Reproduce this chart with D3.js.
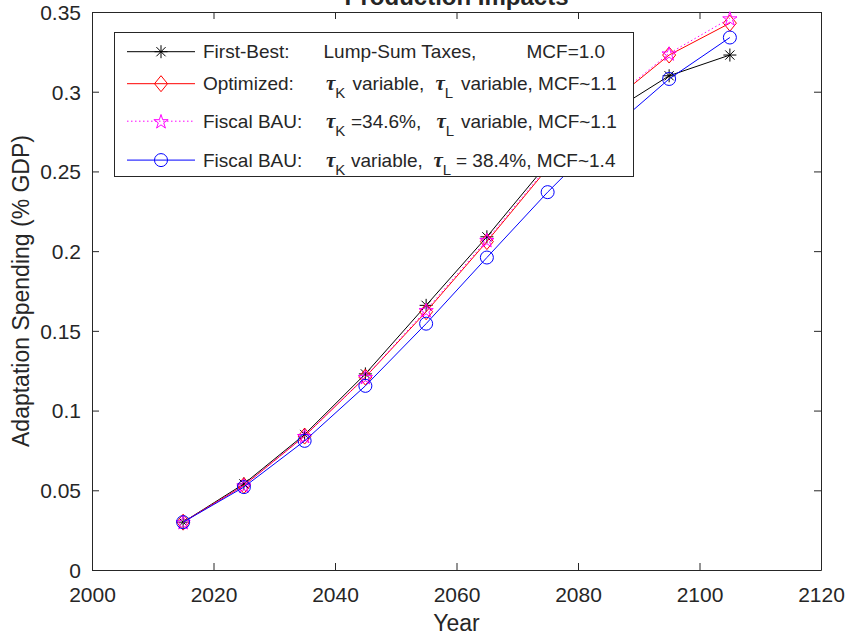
<!DOCTYPE html>
<html><head><meta charset="utf-8">
<script src="https://cdn.jsdelivr.net/npm/d3@7"></script>
<style>body{margin:0;background:#fff}svg{display:block}text{font-family:"Liberation Sans",Arial,sans-serif;fill:#262626}</style>
</head><body>
<svg id="chart" width="848" height="637"></svg>
<script>
const years = [2015,2025,2035,2045,2055,2065,2075,2085,2095,2105];
const firstBest = [0.030,0.054,0.085,0.123,0.166,0.209,0.255,0.286,0.310,0.323];
const optimized = [0.030,0.053,0.084,0.121,0.162,0.206,0.252,0.292,0.323,0.343];
const fiscalK   = [0.030,0.053,0.084,0.121,0.163,0.207,0.253,0.293,0.324,0.346];
const fiscalL   = [0.030,0.052,0.081,0.1155,0.1545,0.196,0.237,0.275,0.308,0.334];
const xTicks = [2000,2020,2040,2060,2080,2100,2120];
const yTicks = [0,0.05,0.1,0.15,0.2,0.25,0.3,0.35];
const yTickLabels = ["0","0.05","0.1","0.15","0.2","0.25","0.3","0.35"];

const svg = d3.select("#chart");
const L=92,R=821,T=12,B=570;
const x = d3.scaleLinear().domain([2000,2120]).range([L,R]);
const y = d3.scaleLinear().domain([0,0.35]).range([B,T]);

const series = [
  {name:"fb", vals:firstBest, color:"#000000", dash:null, marker:"asterisk"},
  {name:"opt", vals:optimized, color:"#ff0000", dash:null, marker:"diamond"},
  {name:"fk", vals:fiscalK, color:"#ff00ff", dash:"1.5,2.5", marker:"star"},
  {name:"fl", vals:fiscalL, color:"#0000ff", dash:null, marker:"circle"}
];

// axes box
const axisColor="#262626";
const gx = svg.append("g").attr("transform",`translate(0,${B})`)
  .call(d3.axisBottom(x).tickValues(xTicks).tickSize(-7).tickSizeOuter(0).tickPadding(17).tickFormat(d3.format("d")));
const gxt = svg.append("g").attr("transform",`translate(0,${T})`)
  .call(d3.axisTop(x).tickValues(xTicks).tickSize(-7).tickSizeOuter(0).tickFormat(""));
const gy = svg.append("g").attr("transform",`translate(${L},0)`)
  .call(d3.axisLeft(y).tickValues(yTicks).tickSize(-7).tickSizeOuter(0).tickPadding(11).tickFormat((d,i)=>yTickLabels[i]));
const gyr = svg.append("g").attr("transform",`translate(${R},0)`)
  .call(d3.axisRight(y).tickValues(yTicks).tickSize(-7).tickSizeOuter(0).tickFormat(""));
[gx,gxt,gy,gyr].forEach(g=>{
  g.selectAll("path").attr("stroke",axisColor).attr("stroke-width",1);
  g.selectAll("line").attr("stroke",axisColor).attr("stroke-width",1);
  g.selectAll("text").attr("fill",axisColor).style("font-size","21px").style("font-family","'Liberation Sans',Arial,sans-serif");
});
gx.selectAll("text").attr("dy","0.71em");
gy.selectAll("text").attr("dy","0.35em");

// markers
function starPath(r){
  const pts=[];
  for(let i=0;i<10;i++){
    const rr = i%2===0? r : r*0.382;
    const a = -Math.PI/2 + i*Math.PI/5;
    pts.push([rr*Math.cos(a), rr*Math.sin(a)]);
  }
  return "M"+pts.map(p=>p[0].toFixed(2)+","+p[1].toFixed(2)).join("L")+"Z";
}
function drawMarker(g, type, cx, cy, color){
  if(type==="circle"){
    g.append("circle").attr("cx",cx).attr("cy",cy).attr("r",6.5).attr("fill","none").attr("stroke",color).attr("stroke-width",1);
  } else if(type==="diamond"){
    g.append("path").attr("d",`M${cx},${cy-8}L${cx+6.5},${cy}L${cx},${cy+8}L${cx-6.5},${cy}Z`).attr("fill","none").attr("stroke",color).attr("stroke-width",1);
  } else if(type==="star"){
    g.append("path").attr("d",starPath(7.5)).attr("transform",`translate(${cx},${cy+0.8})`).attr("fill","none").attr("stroke",color).attr("stroke-width",1);
  } else if(type==="asterisk"){
    const r=6.5, d=4.6;
    const p=`M${cx-r},${cy}L${cx+r},${cy}M${cx},${cy-r}L${cx},${cy+r}M${cx-d},${cy-d}L${cx+d},${cy+d}M${cx-d},${cy+d}L${cx+d},${cy-d}`;
    g.append("path").attr("d",p).attr("fill","none").attr("stroke",color).attr("stroke-width",1);
  }
}

const line = d3.line().x((d,i)=>x(years[i])).y(d=>y(d));
series.forEach(s=>{
  const g = svg.append("g");
  g.append("path").datum(s.vals).attr("d",line).attr("fill","none").attr("stroke",s.color).attr("stroke-width",1)
    .attr("stroke-dasharray",s.dash);
  s.vals.forEach((v,i)=>drawMarker(g,s.marker,x(years[i]),y(v),s.color));
});

// title (partially clipped at the top edge, as in the original figure)
svg.append("text").attr("x",(L+R)/2).attr("y",5).attr("text-anchor","middle")
  .style("font-size","24px").style("font-weight","bold").attr("fill","#000").text("Production Impacts");
// axis labels
svg.append("text").attr("x",(L+R)/2).attr("y",631).attr("text-anchor","middle")
  .style("font-size","23px").text("Year");
svg.append("text").attr("transform",`translate(29,${(T+B)/2}) rotate(-90)`).attr("text-anchor","middle")
  .style("font-size","23px").text("Adaptation Spending (% GDP)");

// legend
const lg = svg.append("g");
lg.append("rect").attr("x",114.5).attr("y",32.5).attr("width",519).attr("height",144)
  .attr("fill","#fff").attr("stroke",axisColor).attr("stroke-width",1);
const rowsY=[51.7,83.7,121.2,160.1];
const legendRows = [
  [{t:"First-Best:",x:203},{t:"Lump-Sum Taxes,",x:323.5},{t:"MCF=1.0",x:526.5}],
  [{t:"Optimized:",x:203},{tau:"K",x:326},{t:"variable,",x:352.5},{tau:"L",x:435.5},{t:"variable, MCF~1.1",x:461}],
  [{t:"Fiscal BAU:",x:203},{tau:"K",x:326},{t:"=34.6%,",x:351},{tau:"L",x:436.5},{t:"variable, MCF~1.1",x:461}],
  [{t:"Fiscal BAU:",x:203},{tau:"K",x:326},{t:"variable,",x:351},{tau:"L",x:433.5},{t:"= 38.4%, MCF~1.4",x:456}]
];
series.forEach((s,i)=>{
  const cy=rowsY[i];
  lg.append("line").attr("x1",127).attr("x2",195).attr("y1",cy).attr("y2",cy)
    .attr("stroke",s.color).attr("stroke-width",1).attr("stroke-dasharray",s.dash);
  drawMarker(lg,s.marker,161,cy,s.color);
  legendRows[i].forEach(item=>{
    if(item.t){
      lg.append("text").attr("x",item.x).attr("y",cy+6.5).style("font-size","19px").attr("fill","#000").text(item.t);
    } else {
      const tt = lg.append("text").attr("x",item.x).attr("y",cy+6.5).attr("fill","#000");
      tt.append("tspan").style("font-size","21px").style("font-style","italic").style("font-weight","bold")
        .style("font-family","'Liberation Serif','DejaVu Serif',serif").text("τ");
      tt.append("tspan").attr("dy",8).style("font-size","15px").text(item.tau);
    }
  });
});
</script>
</body></html>
